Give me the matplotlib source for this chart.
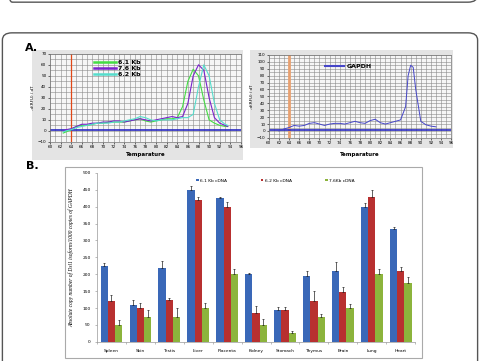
import numpy as np
import matplotlib
matplotlib.use('Agg')
import matplotlib.pyplot as plt
from matplotlib.patches import FancyBboxPatch, Rectangle

# data  ========================================================================
# panel A, left: melt curves
temp_a = [62.5, 63, 64, 65, 66, 67, 68, 69, 70, 71, 72, 73, 74, 75, 76, 77, 78,
          79, 80, 81, 82, 83, 84, 85, 86, 87, 88, 89, 90, 91, 92, 93, 93.5]
kb61 = [-2, -1, 1, 4, 5, 5, 6, 7, 7, 8, 8, 8, 8, 9, 10, 11, 9, 8, 9, 10, 11, 11,
        12, 22, 45, 56, 50, 28, 10, 7, 5, 4, 4]
kb76 = [0, 1, 2, 4, 6, 6, 7, 7, 8, 8, 9, 9, 8, 9, 10, 11, 10, 9, 10, 11, 12, 13,
        12, 13, 25, 50, 60, 55, 30, 12, 7, 5, 4]
kb62 = [-1, 0, 1, 3, 4, 5, 6, 7, 7, 7, 8, 8, 9, 10, 11, 13, 12, 10, 9, 10, 10, 10,
        11, 12, 12, 15, 40, 60, 50, 25, 10, 6, 5]
curve_labels = ['6.1 Kb', '7.6 Kb', '6.2 Kb']
curve_colors = ['#44dd44', '#7a22cc', '#55ddcc']

# panel A, right: GAPDH
temp_g = [62, 63, 64, 65, 66, 67, 68, 69, 70, 71, 72, 73, 74, 75, 76, 77, 78, 79,
          80, 81, 82, 83, 84, 85, 86, 87, 87.5, 88, 88.5, 89, 90, 91, 92, 93]
gapdh = [0, 3, 5, 8, 7, 8, 11, 12, 10, 8, 10, 11, 11, 10, 12, 14, 12, 11, 15, 17,
         12, 10, 12, 14, 16, 35, 80, 95, 92, 60, 14, 9, 7, 6]

# panel B: copy numbers
tissues = ['Spleen', 'Skin', 'Testis', 'Liver', 'Placenta', 'Kidney', 'Stomach',
           'Thymus', 'Brain', 'Lung', 'Heart']
c61 = [225, 110, 220, 450, 425, 200, 95, 195, 210, 400, 335]
c62 = [120, 100, 125, 420, 400, 85, 95, 120, 148, 430, 210]
c76 = [50, 75, 75, 100, 200, 50, 25, 75, 100, 200, 175]
e61 = [8, 15, 18, 10, 5, 5, 8, 15, 25, 10, 5]
e62 = [20, 15, 5, 10, 15, 22, 8, 30, 15, 18, 12]
e76 = [15, 20, 25, 15, 15, 18, 8, 8, 12, 15, 18]
bar_labels = ['6.1 Kb cDNA', '6.2 Kb cDNA', '7.6Kb cDNA']
bar_colors = ['#3a68b8', '#b83030', '#8cb43c']

# figure  ======================================================================
fig = plt.figure(figsize=(4.8, 3.61), dpi=100)

# journal frames
fig.patches.append(FancyBboxPatch((0.005, 0.994), 0.99, 0.5,
                                  boxstyle='round,pad=0,rounding_size=0.02',
                                  transform=fig.transFigure, fill=False,
                                  edgecolor='#555555', lw=1.0, zorder=-2))
fig.patches.append(FancyBboxPatch((0.005, -0.2), 0.99, 1.109,
                                  boxstyle='round,pad=0,rounding_size=0.02',
                                  transform=fig.transFigure, fill=False,
                                  edgecolor='#555555', lw=1.0, zorder=-2))

# gray backgrounds of panel A pictures
fig.patches.append(Rectangle((0.067, 0.557), 0.44, 0.305, transform=fig.transFigure,
                             facecolor='#e4e4e4', edgecolor='none', zorder=-1))
fig.patches.append(Rectangle((0.521, 0.590), 0.423, 0.271, transform=fig.transFigure,
                             facecolor='#e4e4e4', edgecolor='none', zorder=-1))
# box of panel B
fig.patches.append(Rectangle((0.135, 0.008), 0.744, 0.529, transform=fig.transFigure,
                             facecolor='white', edgecolor='#aaaaaa', lw=0.8, zorder=-1))

fig.text(0.052, 0.867, 'A.', fontsize=8, fontweight='bold', va='center', ha='left')
fig.text(0.054, 0.54, 'B.', fontsize=8, fontweight='bold', va='center', ha='left')


def melt_axes(rect, ylim, yticks, ystep, xlabelpad):
    ax = fig.add_axes(rect)
    ax.set_facecolor('#f6f6f6')
    ax.set_xlim(60, 96)
    ax.set_ylim(*ylim)
    ax.set_xticks(np.arange(60, 97, 2))
    ax.set_xticks(np.arange(60, 97, 1), minor=True)
    ax.set_yticks(yticks)
    ax.set_yticks(np.arange(ylim[0], ylim[1] + 1, ystep), minor=True)
    ax.grid(True, which='both', color='#8a8a8a', lw=0.4)
    ax.tick_params(labelsize=3, length=1.5, width=0.4, pad=1)
    ax.tick_params(which='minor', length=0)
    for s in ax.spines.values():
        s.set_color('#777777')
        s.set_linewidth(0.5)
    ax.set_xlabel('Temparature', fontsize=4, fontweight='bold', labelpad=xlabelpad)
    ax.set_ylabel('-d(RFU) / dT', fontsize=3, labelpad=2)
    return ax


# panel A left
ax1 = melt_axes([0.104, 0.607, 0.398, 0.244], (-10, 70), np.arange(-10, 71, 10), 5, 2)
ax1.axvline(64, color='#e04818', lw=0.9)
ax1.axhline(1, color='#2a2ac0', lw=1.2)
for ys, lab, col in zip([kb61, kb76, kb62], curve_labels, curve_colors):
    ax1.plot(temp_a, ys, color=col, lw=0.8, label=lab)
leg = ax1.legend(loc='upper left', bbox_to_anchor=(0.2, 1.0), fontsize=4.5,
                 frameon=False, handlelength=3.5, handletextpad=0.3,
                 labelspacing=0.15, prop={'weight': 'bold', 'size': 4.5})
for line in leg.get_lines():
    line.set_linewidth(1.8)

# panel A right
ax2 = melt_axes([0.560, 0.618, 0.380, 0.230], (-10, 110), np.arange(-10, 111, 10), 5, 5)
ax2.axvline(64, color='#e8a070', lw=2.0)
ax2.axhline(2, color='#2a2ac0', lw=1.2)
ax2.plot(temp_g, gapdh, color='#4646c8', lw=0.7, label='GAPDH')
leg2 = ax2.legend(loc='upper left', bbox_to_anchor=(0.28, 0.96), frameon=False,
                  handlelength=3.0, handletextpad=0.4,
                  prop={'weight': 'bold', 'size': 4.5})
for line in leg2.get_lines():
    line.set_linewidth(1.5)

# panel B
ax3 = fig.add_axes([0.202, 0.053, 0.663, 0.468])
x = np.arange(len(tissues))
w = 0.25
for i, (vals, errs, lab, col) in enumerate(zip([c61, c62, c76], [e61, e62, e76],
                                                bar_labels, bar_colors)):
    ax3.bar(x + (i - 1) * w, vals, w, color=col, label=lab,
            yerr=[np.zeros(len(errs)), errs], error_kw=dict(lw=0.5, capsize=1,
                                                            capthick=0.5, ecolor='#222222'))
ax3.set_xlim(-0.5, len(tissues) - 0.5)
ax3.set_ylim(0, 500)
ax3.set_yticks(np.arange(0, 501, 50))
ax3.set_xticks(x)
ax3.set_xticklabels(tissues)
ax3.set_xticks(np.arange(-0.5, len(tissues), 1), minor=True)
ax3.tick_params(axis='x', which='major', length=0, labelsize=3.2, pad=5)
ax3.tick_params(axis='x', which='minor', length=1.5, width=0.4, color='#888888')
ax3.tick_params(axis='y', labelsize=3.2, length=1.5, width=0.4, color='#888888', pad=3)
for s in ['top', 'right']:
    ax3.spines[s].set_visible(False)
for s in ['left', 'bottom']:
    ax3.spines[s].set_color('#999999')
    ax3.spines[s].set_linewidth(0.5)
ax3.set_ylabel('Absolute copy number of Dsl1 isoform/1000 copies of GAPDH',
               fontsize=4, family='Liberation Serif', style='italic', labelpad=6)
ax3.legend(loc='upper left', bbox_to_anchor=(0.3, 0.99), ncol=3, frameon=False,
           fontsize=3.2, handlelength=0.6, handleheight=0.6, handletextpad=0.3,
           columnspacing=7.5)

fig.savefig('out.png', dpi=100)
